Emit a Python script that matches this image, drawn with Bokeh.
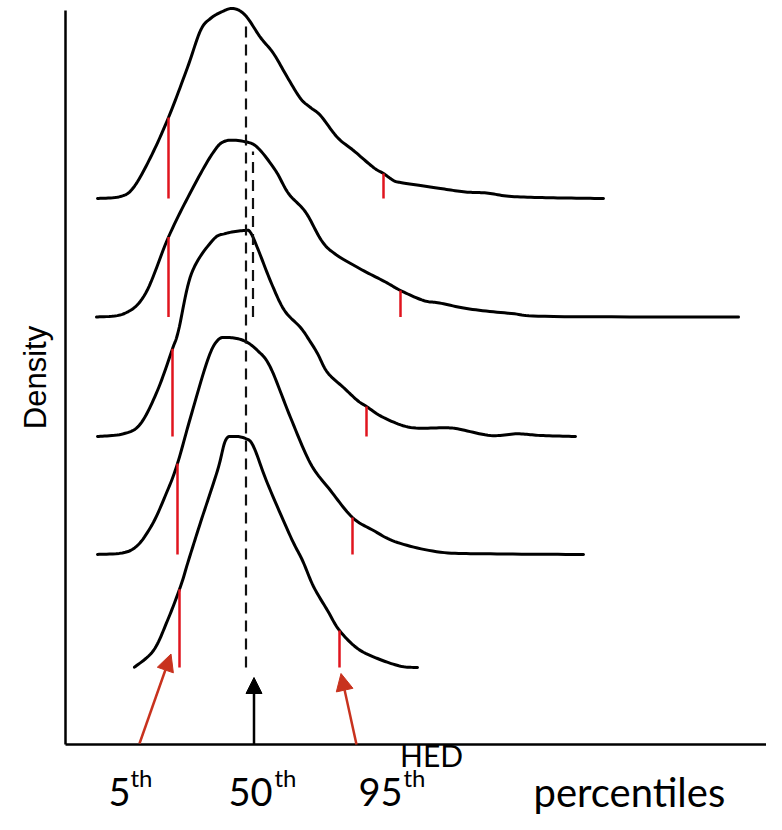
import numpy as np
from bokeh.plotting import figure
from bokeh.models import Range1d, Label, Arrow, NormalHead
from bokeh.embed import file_html
from bokeh.resources import INLINE

# ---------------- data (HED units on x, density units on y) ----------------
# ridge baselines (vertical offsets of each density curve), top to bottom
baselines = [54.6, 42.75, 30.8, 19.0, 7.7]

c1_x = [3.2, 5.5, 6.8, 8.5, 10.3, 12.2, 13.5, 14.5, 15.7, 16.8, 18.0, 19.5, 20.8, 22.2,
        23.5, 24.5, 25.5, 27.2, 28.8, 30.8, 31.8, 32.8, 33.5, 35.5, 37.5, 40.0, 42.1,
        44.6, 48.8, 53.8]
c1_d = [0.0, 0.2, 1.1, 4.1, 8.1, 13.1, 16.8, 18.0, 18.7, 19.0, 18.3, 16.1, 14.5, 12.1,
        10.0, 9.1, 8.3, 6.1, 4.8, 3.1, 2.5, 1.8, 1.6, 1.3, 1.0, 0.65, 0.55, 0.2, 0.07, 0.0]

c2_x = [3.1, 5.9, 8.0, 10.3, 12.6, 14.7, 16.0, 18.1, 19.3, 21.0, 22.3, 24.0, 25.6, 26.9,
        29.4, 32.0, 33.5, 35.8, 37.4, 40.4, 44.6, 48.8, 67.3]
c2_d = [0.0, 0.35, 2.35, 8.0, 12.65, 16.35, 17.6, 17.5, 16.85, 14.65, 12.35, 10.5, 7.65,
        6.35, 4.85, 3.5, 2.65, 1.65, 1.4, 0.8, 0.35, 0.05, 0.0]

c3_x = [3.2, 5.8, 7.5, 9.2, 10.7, 11.3, 12.6, 14.7, 16.0, 17.9, 18.5, 19.3, 20.6, 21.9,
        23.5, 24.4, 25.2, 26.2, 27.8, 29.2, 30.1, 31.8, 34.5, 37.8, 39.2, 42.5, 45.2,
        47.5, 51.0]
c3_d = [0.0, 0.27, 1.27, 4.6, 8.77, 10.6, 16.3, 19.6, 20.3, 20.6, 20.4, 18.6, 15.3, 12.6,
        10.9, 9.6, 8.3, 6.4, 4.9, 3.6, 3.0, 1.9, 0.9, 0.87, 0.77, 0.1, 0.27, 0.1, 0.0]

c4_x = [3.2, 6.5, 8.5, 10.2, 11.2, 12.5, 14.2, 15.2, 16.2, 17.8, 19.2, 20.5, 22.5, 24.5,
        26.5, 28.7, 30.8, 33.2, 37.5, 42.5, 51.8]
c4_d = [0.0, 0.4, 2.7, 6.4, 9.1, 13.7, 19.4, 21.4, 21.7, 21.4, 20.4, 18.7, 13.7, 9.1,
        6.4, 3.7, 2.4, 1.2, 0.23, 0.07, 0.0]

c5_x = [6.9, 8.8, 10.2, 11.5, 12.3, 13.5, 15.2, 16.0, 16.8, 18.0, 18.8, 20.2, 22.5, 23.7,
        24.8, 26.2, 27.4, 29.2, 31.2, 33.5, 35.2]
c5_d = [0.03, 1.7, 4.7, 8.1, 10.7, 14.5, 19.7, 22.7, 23.1, 22.9, 22.1, 18.4, 13.1, 10.7,
        8.1, 5.7, 3.7, 1.9, 0.9, 0.13, 0.0]

p5 = [10.3, 10.3, 10.7, 11.2, 11.4]       # 5th percentile per curve
p95 = [31.8, 33.5, 30.1, 28.7, 27.4]      # 95th percentile per curve
median_all = 18.05                         # common 50th percentile line
median_c2 = 18.75                          # 50th percentile of the 2nd curve

pct_labels = ["5", "50", "95"]
pct_sup = "th"

curves = [(c1_x, c1_d), (c2_x, c2_d), (c3_x, c3_d), (c4_x, c4_d), (c5_x, c5_d)]


def smooth(x, y, n=12):
    """Catmull-Rom rendering of a polyline through the read points."""
    x = np.asarray(x, float)
    y = np.asarray(y, float)
    P = np.column_stack([x, y])
    P = np.vstack([P[0], P, P[-1]])
    out = []
    t = np.linspace(0, 1, n, endpoint=False)[:, None]
    for i in range(1, len(P) - 2):
        p0, p1, p2, p3 = P[i - 1], P[i], P[i + 1], P[i + 2]
        seg = 0.5 * ((2 * p1) + (-p0 + p2) * t + (2 * p0 - 5 * p1 + 4 * p2 - p3) * t ** 2
                     + (-p0 + 3 * p1 - 3 * p2 + p3) * t ** 3)
        out.append(seg)
    out.append(P[-2][None, :])
    S = np.vstack(out)
    return S[:, 0], S[:, 1]


# ---------------- figure ----------------
W, H = 766, 814
p = figure(width=W, height=H, output_backend="svg", toolbar_location=None,
           x_range=Range1d(-6.5, 70.1), y_range=Range1d(-7.0, 74.4),
           min_border=0)
p.grid.visible = False
p.axis.visible = False
p.outline_line_color = None
p.background_fill_color = "white"
p.border_fill_color = "white"

# axis lines (HED axis at density 0, density axis at HED 0)
p.segment(x0=[0, 0], y0=[0, 0], x1=[0, 80], y1=[73.4, 0], line_color="black", line_width=2.5)

RED = "#e0141e"
ARROW_RED = "#c8321e"

for (cx, cd), base, a5, a95 in zip(curves, baselines, p5, p95):
    xs = np.array(cx)
    ys = np.array(cd) + base
    sx, sy = smooth(xs, ys)
    p.line(sx, sy, line_color="black", line_width=3, line_join="round", line_cap="round")
    for q in (a5, a95):
        top = np.interp(q, sx, sy)
        p.segment(x0=[q], y0=[base], x1=[q], y1=[top], line_color=RED, line_width=2.5)

# dashed median lines
top_all = np.interp(median_all, np.array(c1_x), np.array(c1_d) + baselines[0])
p.segment(x0=[median_all], y0=[baselines[-1]], x1=[median_all], y1=[top_all - 0.4],
          line_color="#111111", line_width=2.2, line_dash="11 7")
top_c2 = np.interp(median_c2, np.array(c2_x), np.array(c2_d) + baselines[1])
p.segment(x0=[median_c2], y0=[baselines[1]], x1=[median_c2], y1=[top_c2 - 0.6],
          line_color="#111111", line_width=2.2, line_dash="11 7")

# arrows pointing at the bottom curve's percentiles
p.add_layout(Arrow(end=NormalHead(size=17, fill_color=ARROW_RED, line_color=ARROW_RED),
                   x_start=p5[-1] - 4.0, y_start=0.1, x_end=p5[-1] - 0.85, y_end=baselines[-1] + 1.35,
                   line_color=ARROW_RED, line_width=2.5))
p.add_layout(Arrow(end=NormalHead(size=17, fill_color=ARROW_RED, line_color=ARROW_RED),
                   x_start=p95[-1] + 1.7, y_start=0.0, x_end=p95[-1] + 0.15, y_end=baselines[-1] - 0.6,
                   line_color=ARROW_RED, line_width=2.5))
p.add_layout(Arrow(end=NormalHead(size=16, fill_color="black", line_color="black"),
                   x_start=median_all + 0.8, y_start=0.0, x_end=median_all + 0.8, y_end=baselines[-1] - 1.0,
                   line_color="black", line_width=2.5))

# axis titles
p.add_layout(Label(x=-3.0, y=36.7, text="Density", angle=np.pi / 2, text_align="center",
                   text_baseline="middle", text_font="Liberation Sans", text_font_size="31px",
                   text_color="black"))
p.add_layout(Label(x=36.6, y=-1.0, text="HED", text_align="center", text_baseline="middle",
                   text_font="Lato", text_font_size="30px", text_color="black"))

# percentile labels
num_x = [4.3, 16.3, 29.3]
sup_x = [6.5, 20.9, 33.8]
for t, nx, sx_ in zip(pct_labels, num_x, sup_x):
    p.add_layout(Label(x=nx, y=-4.7, text=t, text_align="left", text_baseline="alphabetic",
                       text_font="Lato", text_font_size="38px", text_color="black"))
    p.add_layout(Label(x=sx_, y=-1.8, text=pct_sup, text_align="left", text_baseline="top",
                       text_font="Lato", text_font_size="24px", text_color="black"))
p.add_layout(Label(x=46.8, y=-4.7, text="percentiles", text_align="left", text_baseline="alphabetic",
                   text_font="Lato", text_font_size="40px", text_color="black"))

open("out.html", "w").write(file_html(p, INLINE))
